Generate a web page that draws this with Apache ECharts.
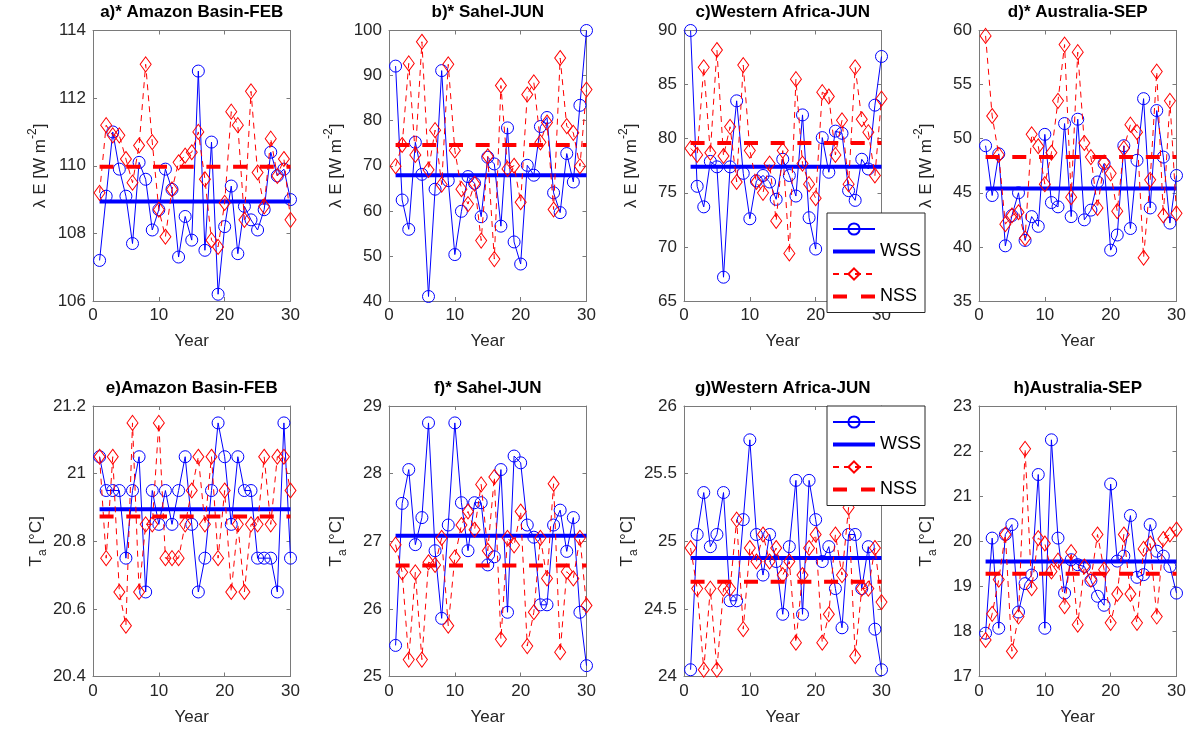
<!DOCTYPE html>
<html><head><meta charset="utf-8">
<script src="https://cdn.jsdelivr.net/npm/echarts@6/dist/echarts.min.js"></script>
<style>html,body{margin:0;padding:0;background:#fff}#c{width:1194px;height:738px}</style>
</head><body><div id="c"></div>
<script>
const years = [1,2,3,4,5,6,7,8,9,10,11,12,13,14,15,16,17,18,19,20,21,22,23,24,25,26,27,28,29,30];
const xTicks = {min: 0, max: 30, step: 10};

const panelTitles = ['a)* Amazon Basin-FEB','b)* Sahel-JUN','c)Western Africa-JUN','d)* Australia-SEP',
                     'e)Amazon Basin-FEB','f)* Sahel-JUN','g)Western Africa-JUN','h)Australia-SEP'];
const yMin  = [106, 40, 65, 35, 20.4, 25, 24, 17];
const yMax  = [114, 100, 90, 60, 21.2, 29, 26, 23];
const yStep = [2, 10, 5, 5, 0.2, 1, 0.5, 1];

const a_wss = [107.2,109.1,111.0,109.9,109.1,107.7,110.1,109.6,108.1,108.7,109.9,109.3,107.3,108.5,107.8,112.8,107.5,110.7,106.2,108.2,109.4,107.4,108.8,108.4,108.1,108.7,110.4,109.7,109.9,109.0];
const a_nss = [109.2,111.2,110.9,110.9,110.2,109.5,110.6,113.0,110.7,108.7,107.9,109.3,110.1,110.3,110.4,111.0,109.6,107.8,107.6,108.9,111.6,111.2,108.4,112.2,109.8,108.8,110.8,109.7,110.2,108.4];
const b_wss = [92.1,62.4,55.9,75.2,68.1,41.0,64.8,91.1,66.7,50.3,59.9,67.6,66.1,58.7,71.9,70.4,56.6,78.4,53.1,48.2,70.1,67.9,78.7,80.7,64.0,59.6,72.7,66.4,83.4,100.0];
const b_nss = [69.9,74.6,92.7,72.4,97.5,69.1,77.9,65.8,92.5,73.4,64.8,61.5,66.0,53.4,72.1,49.3,87.8,69.3,70.0,61.9,85.8,88.5,75.2,79.6,60.3,93.9,78.8,77.3,69.9,86.9];
const c_wss = [90.0,75.6,73.7,77.9,77.4,67.2,77.4,83.5,76.8,72.6,76.1,76.6,76.0,74.4,78.1,76.6,74.7,82.2,72.7,69.8,80.1,76.9,80.7,80.5,75.2,74.3,78.1,77.2,83.1,87.6];
const c_nss = [79.1,78.5,86.6,78.7,88.2,78.4,81.1,76.0,86.8,78.9,76.0,75.0,77.7,72.4,78.9,69.4,85.5,77.7,75.8,74.5,84.3,83.9,78.5,81.7,75.8,86.6,81.8,80.6,76.6,83.7];
const d_wss = [49.35,44.75,48.6,40.1,42.9,45.0,40.6,42.8,41.9,50.4,44.1,43.7,51.4,42.8,51.8,42.5,43.4,46.0,47.7,39.7,41.1,49.35,41.7,48.0,53.7,43.6,52.6,48.3,42.2,46.6];
const d_nss = [59.5,52.1,48.5,42.1,42.9,43.2,40.8,50.4,49.3,45.8,48.7,53.5,58.7,44.6,58.0,49.6,48.3,43.6,47.8,46.8,43.3,49.1,51.3,50.6,39.0,46.2,56.2,42.9,53.5,43.1];
const e_wss = [21.05,20.95,20.95,20.95,20.75,20.95,21.05,20.65,20.95,20.85,20.95,20.85,20.95,21.05,20.85,20.65,20.75,20.95,21.15,21.05,20.85,21.05,20.95,20.95,20.75,20.75,20.75,20.65,21.15,20.75];
const e_nss = [21.05,20.75,21.05,20.65,20.55,21.15,20.65,20.85,20.85,21.15,20.75,20.75,20.75,20.85,20.95,21.05,20.85,21.05,20.75,20.95,20.65,20.85,20.65,20.85,20.85,21.05,20.85,21.05,21.05,20.95];
const f_wss = [25.46,27.56,28.06,26.95,27.35,28.75,26.86,25.86,27.24,28.75,27.57,26.86,27.57,27.57,26.65,26.77,28.06,25.95,28.26,28.16,27.24,27.06,26.06,26.06,27.24,27.46,26.85,27.35,25.95,25.16];
const f_nss = [26.95,26.54,25.25,26.54,25.25,26.69,26.65,27.05,25.75,26.76,27.24,27.44,27.17,27.84,26.86,27.95,25.55,27.05,26.94,27.44,25.45,25.95,27.05,26.45,27.85,25.36,26.55,26.45,27.05,26.05];
const g_wss = [24.05,25.05,25.36,24.96,25.05,25.36,24.56,24.56,25.16,25.75,25.05,24.75,25.05,24.85,24.46,24.96,25.45,24.46,25.45,25.16,24.85,24.96,24.65,24.36,25.05,25.05,24.65,24.96,24.35,24.05];
const g_nss = [24.95,24.65,24.05,24.65,24.05,24.65,24.65,25.16,24.35,24.95,24.85,25.05,24.85,24.95,24.75,24.85,24.25,24.75,24.95,25.05,24.25,24.46,25.05,24.75,25.25,24.15,24.65,24.65,24.95,24.55];
const h_wss = [17.96,20.07,18.07,20.15,20.37,18.43,19.06,19.25,21.48,18.07,22.25,20.07,18.85,19.59,19.48,19.44,19.13,18.78,18.58,21.27,19.56,19.67,20.57,19.2,19.26,20.37,19.78,19.67,19.44,18.85];
const h_nss = [17.81,18.39,19.15,20.15,17.56,18.33,22.05,18.96,20.07,19.95,19.33,19.57,18.56,19.76,18.15,19.44,19.15,20.15,19.37,18.19,18.83,20.15,18.83,18.19,19.83,19.95,18.33,20.05,20.15,20.26];

const wssMean = [108.94, 67.9, 77.4, 45.4, 20.895, 27.08, 24.877, 19.55];
const nssMean = [109.97, 74.6, 79.6, 48.3, 20.873, 26.64, 24.70, 19.28];

const wssSeries = [a_wss, b_wss, c_wss, d_wss, e_wss, f_wss, g_wss, h_wss];
const nssSeries = [a_nss, b_nss, c_nss, d_nss, e_nss, f_nss, g_nss, h_nss];

const FONT = 'Liberation Sans, Arial, Helvetica, sans-serif';
const TXT = '#262626';
const AX = '#7a7a7a';
const lefts = [93, 389, 684, 979];
const tops = [30.5, 406];
const W = 197.5, H = 270.5;

const option = {
  animation: false,
  backgroundColor: '#fff',
  textStyle: {fontFamily: FONT},
  grid: [], xAxis: [], yAxis: [], series: [], legend: [], graphic: []
};

for (let i = 0; i < 8; i++) {
  const col = i % 4, row = Math.floor(i / 4);
  option.grid.push({left: lefts[col], top: tops[row], width: W, height: H, show: false});
  const tick = {show: true, inside: true, length: 4, lineStyle: {color: AX, width: 1}};
  const line = {show: true, onZero: false, lineStyle: {color: AX, width: 1}};
  option.xAxis.push({
    type: 'value', gridIndex: i, position: 'bottom', min: xTicks.min, max: xTicks.max, interval: xTicks.step,
    axisLine: line, axisTick: tick, splitLine: {show: false},
    axisLabel: {color: TXT, fontSize: 17, margin: 6, fontFamily: FONT},
    name: 'Year', nameLocation: 'middle', nameGap: 32,
    nameTextStyle: {color: TXT, fontSize: 17, fontFamily: FONT}
  });
  option.xAxis.push({
    type: 'value', gridIndex: i, position: 'top', min: xTicks.min, max: xTicks.max, interval: xTicks.step,
    axisLine: line, axisTick: tick, splitLine: {show: false}, axisLabel: {show: false}
  });
  const yName = row === 0 ? 'λ E [W m{sup|-2}]' : 'T{sub|a} [°C]';
  option.yAxis.push({
    type: 'value', gridIndex: i, position: 'left', min: yMin[i], max: yMax[i], interval: yStep[i],
    axisLine: line, axisTick: tick, splitLine: {show: false},
    axisLabel: {color: TXT, fontSize: 17, margin: 7, fontFamily: FONT},
    name: yName, nameLocation: 'middle', nameGap: 40,
    nameTextStyle: {color: TXT, fontSize: 17, fontFamily: FONT, lineHeight: 26,
      rich: {sup: {fontSize: 12, verticalAlign: 'top', lineHeight: 12, fontFamily: FONT, color: TXT},
             sub: {fontSize: 12, verticalAlign: 'bottom', lineHeight: 12, fontFamily: FONT, color: TXT}}}
  });
  option.yAxis.push({
    type: 'value', gridIndex: i, position: 'right', min: yMin[i], max: yMax[i], interval: yStep[i],
    axisLine: line, axisTick: tick, splitLine: {show: false}, axisLabel: {show: false}
  });
  const xi = 2 * i, yi = 2 * i;
  option.series.push({
    name: 'wssPts', type: 'line', xAxisIndex: xi, yAxisIndex: yi,
    data: years.map((y, k) => [y, wssSeries[i][k]]),
    symbol: 'circle', symbolSize: 12, showAllSymbol: true,
    itemStyle: {color: 'rgba(255,255,255,0)', borderColor: '#0000ff', borderWidth: 1},
    lineStyle: {color: '#0000ff', width: 1}, z: 2
  });
  option.series.push({
    name: 'WSS', type: 'line', xAxisIndex: xi, yAxisIndex: yi,
    data: [[years[0], wssMean[i]], [years[years.length - 1], wssMean[i]]],
    symbol: 'none', itemStyle: {color: '#0000ff'},
    lineStyle: {color: '#0000ff', width: 4}, z: 3
  });
  option.series.push({
    name: 'nssPts', type: 'line', xAxisIndex: xi, yAxisIndex: yi,
    data: years.map((y, k) => [y, nssSeries[i][k]]),
    symbol: 'diamond', symbolSize: [11, 15], showAllSymbol: true,
    itemStyle: {color: 'rgba(255,255,255,0)', borderColor: '#ff0000', borderWidth: 1},
    lineStyle: {color: '#ff0000', width: 1, type: [6, 5]}, z: 4
  });
  option.series.push({
    name: 'NSS', type: 'line', xAxisIndex: xi, yAxisIndex: yi,
    data: [[years[0], nssMean[i]], [years[years.length - 1], nssMean[i]]],
    symbol: 'none', itemStyle: {color: '#ff0000'},
    lineStyle: {color: '#ff0000', width: 4, type: [14, 12.7]}, z: 5
  });
  option.graphic.push({
    type: 'text', x: lefts[col] + W / 2, y: row === 0 ? 12 : 388,
    style: {text: panelTitles[i], font: 'bold 17px ' + FONT, fill: '#000', align: 'center', verticalAlign: 'middle'}
  });
}

const legendBase = {
  data: [
    {name: 'wssPts'},
    {name: 'WSS', icon: 'path://M0,0 L42,0 L42,4 L0,4 Z', itemStyle: {color: '#0000ff', borderWidth: 0}},
    {name: 'nssPts'},
    {name: 'NSS', icon: 'path://M0,0 L14,0 L14,4 L0,4 Z M28,0 L42,0 L42,4 L28,4 Z', itemStyle: {color: '#ff0000', borderWidth: 0}}
  ],
  orient: 'vertical', left: 827, itemWidth: 42, itemHeight: 14, itemGap: 4.5,
  padding: [7, 4, 7, 5], backgroundColor: '#fff', borderColor: '#262626', borderWidth: 1,
  selectedMode: false, z: 20, symbolKeepAspect: true,
  textStyle: {fontSize: 18, color: '#000', fontFamily: FONT, lineHeight: 18},
  formatter: n => (n === 'WSS' || n === 'NSS') ? n : ' '
};
option.legend.push(Object.assign({}, legendBase, {top: 213}));
option.legend.push(Object.assign({}, legendBase, {top: 406}));

const chart = echarts.init(document.getElementById('c'), null, {renderer: 'canvas'});
chart.setOption(option);
</script></body></html>
